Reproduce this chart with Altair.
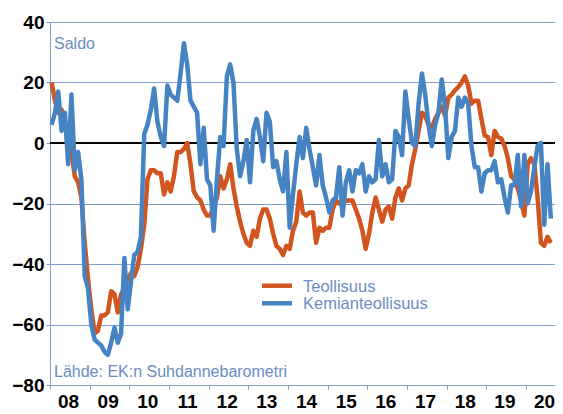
import altair as alt
import pandas as pd

# ---------------- data ----------------
years = ["08", "09", "10", "11", "12", "13", "14", "15", "16", "17", "18", "19", "20"]
series_names = ["Teollisuus", "Kemianteollisuus"]
y_ticks = [-80, -60, -40, -20, 0, 20, 40]

# monthly balance figures, Jan 2008 -> Aug 2020
teollisuus = [
    20, 14, 10, 11, 6, 2, -3, -11, -13, -18, -33, -45,
    -55, -63, -62, -57, -57, -56, -49, -50, -56, -50, -48, -45,
    -43, -44, -41, -35, -27, -12, -9, -9, -10, -10, -17, -13,
    -16, -11, -3, -3, -2, 0, -7, -16, -18, -19, -22, -24,
    -24, -21, -18, -11, -15, -12, -7, -15, -21, -26, -30, -33,
    -34, -29, -31, -25, -22, -22, -25, -30, -34, -35, -37, -34,
    -35, -29, -26, -16, -23, -24, -23, -23, -33, -28, -29, -28,
    -28, -22, -19, -20, -20, -19, -19, -19, -22, -25, -29, -35,
    -30, -23, -18, -22, -26, -22, -21, -25, -18, -15, -19, -15,
    -14, -7, -2, 4, 10, 9, 6, 5, 8, 10, 12, 9,
    15, 16, 17.5, 18.5, 20, 22, 19, 13, 14, 14, 8, 2.5,
    2, -4, 4, 2, 1.5, -1, -5, -11, -12, -15, -19, -24,
    -7, -5, -7, -18, -33, -34, -31, -33,
]
kemianteollisuus = [
    6, 10, 17, 4, 10, -7, 16, -9, -3, -12, -44, -48,
    -60, -65, -66, -67, -69, -70, -66, -61, -66, -63, -38, -55,
    -46, -37, -36, -31, 3, 6, 11, 18, 7, 2, -1, 19,
    16, 15, 14, 23, 33, 26, 14, 12, 10, -7, 5, -12,
    -14, -29, -12, 2, -1, 22, 26, 20, -2, -11, -6, 1,
    -13, 4, 8, 2, -6, 10, 7, -8, -6, -12, -16, -3,
    -28, -17, -7, 2, -5, 5, -2, -8, -14, -4, -14, -18,
    -23, -19, -18, -8, -24, -13, -9, -16, -9, -10, -7, -16,
    -11, -13, -12, 1, -11, -7, -13, -12, 4, 2, -4, 17,
    8, 0, -1, 13, 23, 16, 6, -1, 6, 10, 21, 12,
    -5, 2, 4, 15, 12, 15, 13, -1, -8, -8, -16, -10,
    -9, -9, -6, -13, -12, -18, -23, -14, -14, -4, -21, -4,
    -20, -16, -8, -1, 0, -27, -7, -25,
]

# ---------------- styling ----------------
ORANGE = "#D2541F"
BLUE = "#4683C3"
AXIS_BLUE = "#7F9FCF"
TEXT_BLUE = "#6A8EC2"
FONT = "Liberation Sans"

n = len(teollisuus)
df = pd.DataFrame({
    "m": list(range(n)) * 2,
    "v": teollisuus + kemianteollisuus,
    "s": [series_names[0]] * n + [series_names[1]] * n,
})

year_starts = [12 * k - 0.5 for k in range(len(years))]
label_expr = "[" + ",".join(f"'{y}'" for y in years) + "][round((datum.value + 0.5) / 12)]"

x_scale = alt.Scale(domain=[-0.5, 152.26], nice=False, zero=False)
y_scale = alt.Scale(domain=[-80, 40], nice=False, zero=False)
color_scale = alt.Scale(domain=series_names, range=[ORANGE, BLUE])

x_axis = alt.Axis(
    values=year_starts, labelExpr=label_expr, labelOffset=18, title=None,
    grid=False, tickSize=4, tickColor=AXIS_BLUE, domainColor=AXIS_BLUE,
    labelFont=FONT, labelFontSize=19, labelFontWeight="bold", labelColor="black",
    labelPadding=3, labelAngle=0, labelFlush=False, labelOverlap=False,
    labelBound=False,
)
y_axis = alt.Axis(
    values=y_ticks, title=None, grid=True, gridColor=AXIS_BLUE, gridWidth=1,
    tickSize=4, tickColor=AXIS_BLUE, domainColor=AXIS_BLUE,
    labelFont=FONT, labelFontSize=19, labelFontWeight="bold", labelColor="black",
    labelPadding=2, labelFlush=False, labelOverlap=False,
)

x_enc = alt.X("m:Q", scale=x_scale, axis=x_axis)
y_enc = alt.Y("v:Q", scale=y_scale, axis=y_axis)

base = alt.Chart(df)

zero_line = alt.Chart(pd.DataFrame({"z": [0]})).mark_rule(
    color="black", strokeWidth=2
).encode(y=alt.datum(0, scale=y_scale))

series_layers = [
    base.transform_filter(alt.datum.s == name)
    .mark_line(strokeWidth=4.5, strokeJoin="round")
    .encode(x=x_enc, y=y_enc,
            color=alt.Color("s:N", scale=color_scale, legend=None))
    for name in series_names
]

# manual legend
legend_colors = [ORANGE, BLUE]
legend_layers = []
for k, name in enumerate(series_names):
    one = alt.Chart(pd.DataFrame({"label": [name]}))
    ypos = 263.7 + 17.6 * k
    legend_layers.append(
        one.mark_rule(color=legend_colors[k], strokeWidth=4.5).encode(
            x=alt.value(212), x2=alt.value(242), y=alt.value(ypos))
    )
    legend_layers.append(
        one.mark_text(align="left", baseline="middle", font=FONT, fontSize=16.5,
                      color=TEXT_BLUE).encode(
            x=alt.value(253), y=alt.value(ypos + 1), text="label:N")
    )

saldo = alt.Chart(pd.DataFrame({"t": ["Saldo"]})).mark_text(
    align="left", baseline="alphabetic", font=FONT, fontSize=16, color=TEXT_BLUE
).encode(x=alt.value(4), y=alt.value(27), text="t:N")

source = alt.Chart(pd.DataFrame({"t": ["Lähde: EK:n Suhdannebarometri"]})).mark_text(
    align="left", baseline="alphabetic", font=FONT, fontSize=16, color=TEXT_BLUE
).encode(x=alt.value(4), y=alt.value(355), text="t:N")

chart = alt.layer(
    zero_line, *series_layers, *legend_layers, saldo, source
).properties(
    width=505, height=363,
    padding={"left": 42, "top": 14, "right": 0, "bottom": 25},
    autosize=alt.AutoSizeParams(type="none"),
    background="white",
).configure_view(strokeWidth=0)

chart.save("out.html", embed_options={"renderer": "svg", "actions": False})
